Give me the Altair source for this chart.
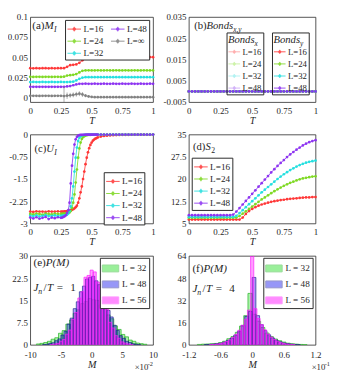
import altair as alt
import pandas as pd

SERIF = "Liberation Serif"
INK = "#262626"
RED, GREEN, CYAN, PURPLE, GRAY = "#ff3333", "#7bd81e", "#1fdede", "#8a2ef0", "#7f7f7f"
PALE = ["#ffa3a3", "#c6f19c", "#a6f1f1", "#cba6f8"]

# ---------------- data ----------------
T_AD = [0.0, 0.025, 0.05, 0.075, 0.1, 0.125, 0.15, 0.175, 0.2, 0.225, 0.25, 0.275, 0.3, 0.325,
        0.35, 0.375, 0.4, 0.425, 0.45, 0.475, 0.5, 0.525, 0.55, 0.575, 0.6, 0.625, 0.65, 0.675,
        0.7, 0.725, 0.75, 0.775, 0.8, 0.825, 0.85, 0.875, 0.9, 0.925, 0.95, 0.975, 1.0]
T_C = [0.0, 0.025, 0.05, 0.075, 0.1, 0.125, 0.15, 0.175, 0.2, 0.225, 0.25,
       0.26, 0.27, 0.28, 0.29, 0.3, 0.31, 0.32, 0.33, 0.34, 0.35, 0.36, 0.37, 0.38, 0.39, 0.4,
       0.41, 0.42, 0.43, 0.44, 0.45, 0.46, 0.47, 0.48, 0.49, 0.5, 0.51, 0.52, 0.53, 0.54, 0.55,
       0.575, 0.6, 0.625, 0.65, 0.675, 0.7, 0.725, 0.75, 0.775, 0.8, 0.825, 0.85, 0.875, 0.9,
       0.925, 0.95, 0.975, 1.0]

# (a) M_I
A_L16 = [0.0362, 0.0361, 0.0362, 0.0361, 0.0362, 0.0362, 0.0361, 0.0362, 0.0361, 0.0362, 0.0362, 0.0363,
         0.038, 0.040, 0.0405, 0.041, 0.043, 0.046, 0.0485, 0.0495,
         0.0500, 0.0501, 0.0500, 0.0500, 0.0501, 0.0500, 0.0500, 0.0501, 0.0500, 0.0500, 0.0501,
         0.0500, 0.0500, 0.0501, 0.0500, 0.0500, 0.0501, 0.0500, 0.0500, 0.0501, 0.0500]
A_L24 = [0.0255, 0.0254, 0.0255, 0.0255, 0.0254, 0.0255, 0.0255, 0.0254, 0.0255, 0.0255, 0.0254, 0.0256,
         0.027, 0.0275, 0.028, 0.029, 0.031, 0.033,
         0.0335, 0.0336, 0.0335, 0.0335, 0.0336, 0.0335, 0.0335, 0.0336, 0.0335, 0.0335, 0.0336,
         0.0335, 0.0335, 0.0336, 0.0335, 0.0335, 0.0336, 0.0335, 0.0335, 0.0336, 0.0335, 0.0335, 0.0335]
A_L32 = [0.0190, 0.0191, 0.0190, 0.0190, 0.0191, 0.0190, 0.0190, 0.0191, 0.0190, 0.0190, 0.0191, 0.0190,
         0.0190, 0.0191, 0.0195, 0.021, 0.023, 0.0245,
         0.0250, 0.0251, 0.0250, 0.0250, 0.0251, 0.0250, 0.0250, 0.0251, 0.0250, 0.0250, 0.0251,
         0.0250, 0.0250, 0.0251, 0.0250, 0.0250, 0.0251, 0.0250, 0.0250, 0.0251, 0.0250, 0.0250, 0.0250]
A_L48 = [0.0130, 0.0131, 0.0130, 0.0130, 0.0131, 0.0130, 0.0130, 0.0131, 0.0130, 0.0130, 0.0131, 0.0130,
         0.0135, 0.014, 0.015, 0.016,
         0.0168, 0.0168, 0.0169, 0.0168, 0.0168, 0.0169, 0.0168, 0.0168, 0.0169, 0.0168, 0.0168,
         0.0169, 0.0168, 0.0168, 0.0169, 0.0168, 0.0168, 0.0169, 0.0168, 0.0168, 0.0169, 0.0168,
         0.0168, 0.0169, 0.0168]
A_LINF = [0.0018, 0.0019, 0.0018, 0.0017, 0.0018, 0.0019, 0.0018, 0.0017, 0.0018, 0.0019, 0.0018,
          0.0015, 0.002, 0.0025, 0.003, 0.0038, 0.0045, 0.0035, 0.002, 0.001, 0.0005,
          0.0002, 0.0002, 0.0002, 0.0002, 0.0002, 0.0002, 0.0002, 0.0002, 0.0002, 0.0002,
          0.0002, 0.0002, 0.0002, 0.0002, 0.0002, 0.0002, 0.0002, 0.0002, 0.0002, 0.0002]
A_LINF_ERR = [0.0006, 0.0006, 0.0006, 0.0006, 0.0006, 0.0006, 0.0006, 0.0006, 0.0006, 0.0006, 0.0006,
              0.012, 0.004, 0.003, 0.003, 0.003, 0.003, 0.003, 0.002, 0.0015, 0.001,
              0.0004, 0.0004, 0.0004, 0.0004, 0.0004, 0.0004, 0.0004, 0.0004, 0.0004, 0.0004,
              0.0004, 0.0004, 0.0004, 0.0004, 0.0004, 0.0004, 0.0004, 0.0004, 0.0004, 0.0004]

# (b) Bonds_x, Bonds_y : all zero
B_ZERO = [0.0, 0.0, 0.0, 0.0, 0.0, 0.0, 0.0, 0.0, 0.0, 0.0, 0.0, 0.0, 0.0, 0.0, 0.0, 0.0, 0.0,
          0.0, 0.0, 0.0, 0.0, 0.0, 0.0, 0.0, 0.0, 0.0, 0.0, 0.0, 0.0, 0.0, 0.0, 0.0, 0.0, 0.0,
          0.0, 0.0, 0.0, 0.0, 0.0, 0.0, 0.0]

# (c) U_I
C_L16 = [-2.60, -2.61, -2.59, -2.60, -2.60, -2.61, -2.59, -2.60, -2.60, -2.59, -2.60,
         -2.60, -2.60, -2.59, -2.59, -2.58, -2.58, -2.57, -2.56, -2.54, -2.52,
         -2.49, -2.45, -2.40, -2.30, -2.15, -1.95, -1.75, -1.50, -1.25, -1.00,
         -0.78, -0.60, -0.46, -0.35, -0.27, -0.21, -0.17, -0.14, -0.12, -0.10,
         -0.07, -0.05, -0.04, -0.03, -0.025, -0.02, -0.015, -0.012, -0.010, -0.009, -0.008,
         -0.007, -0.006, -0.005, -0.005, -0.004, -0.004, -0.003]
C_L24 = [-2.68, -2.69, -2.67, -2.68, -2.70, -2.67, -2.68, -2.69, -2.67, -2.68, -2.68,
         -2.68, -2.67, -2.67, -2.66, -2.66, -2.65, -2.63, -2.58, -2.48, -2.30,
         -2.02, -1.62, -1.18, -0.78, -0.47, -0.27, -0.15, -0.09, -0.055, -0.035,
         -0.022, -0.015, -0.011, -0.009, -0.007, -0.006, -0.005, -0.005, -0.004, -0.004,
         -0.003, -0.003, -0.003, -0.003, -0.002, -0.002, -0.002, -0.002, -0.002, -0.002,
         -0.001, -0.001, -0.001, -0.001, -0.001, -0.001, -0.001, -0.001]
C_L32 = [-2.74, -2.75, -2.73, -2.76, -2.74, -2.72, -2.75, -2.74, -2.73, -2.75, -2.74,
         -2.74, -2.73, -2.73, -2.72, -2.70, -2.66, -2.58, -2.42, -2.15, -1.75,
         -1.25, -0.78, -0.44, -0.22, -0.11, -0.06, -0.035, -0.02, -0.015, -0.01,
         -0.008, -0.007, -0.006, -0.005, -0.005, -0.004, -0.004, -0.003, -0.003, -0.003,
         -0.003, -0.002, -0.002, -0.002, -0.002, -0.002, -0.001, -0.001, -0.001, -0.001,
         -0.001, -0.001, -0.001, -0.001, -0.001, -0.001, -0.001, -0.001]
C_L48 = [-2.80, -2.83, -2.79, -2.84, -2.81, -2.78, -2.85, -2.80, -2.82, -2.79, -2.81,
         -2.80, -2.78, -2.76, -2.72, -2.64, -2.55, -2.30, -1.65, -1.05, -0.65,
         -0.34, -0.16, -0.08, -0.04, -0.02, -0.015, -0.01, -0.01, -0.008, -0.007,
         -0.006, -0.005, -0.005, -0.004, -0.004, -0.003, -0.003, -0.003, -0.002, -0.002,
         -0.002, -0.002, -0.001, -0.001, -0.001, -0.001, -0.001, -0.001, -0.001, -0.001,
         -0.001, -0.001, -0.001, -0.001, -0.001, -0.001, -0.001, -0.001]

# (d) S_2
D_L16 = [6.3, 6.3, 6.3, 6.3, 6.3, 6.3, 6.3, 6.3, 6.3, 6.3, 6.3, 6.3, 6.3, 6.3, 6.3, 6.3, 6.3,
         7.0, 8.2, 9.2, 9.9, 10.5, 11.0, 11.4, 11.7, 12.0, 12.3, 12.5, 12.7, 12.9, 13.0, 13.2,
         13.3, 13.4, 13.5, 13.6, 13.7, 13.8, 13.8, 13.9, 13.9]
D_L24 = [6.9, 6.9, 6.9, 6.9, 6.9, 6.9, 6.9, 6.9, 6.9, 6.9, 6.9, 6.9, 6.9, 6.9, 6.9,
         7.0, 7.5, 8.3, 9.1, 9.9, 10.7, 11.5, 12.3, 13.1, 13.8, 14.5, 15.2, 15.9, 16.5, 17.1,
         17.7, 18.2, 18.7, 19.1, 19.5, 19.9, 20.2, 20.4, 20.6, 20.8, 20.9]
D_L32 = [7.2, 7.2, 7.2, 7.2, 7.2, 7.2, 7.2, 7.2, 7.2, 7.2, 7.2, 7.2, 7.2, 7.2, 7.2,
         7.6, 8.5, 9.5, 10.5, 11.5, 12.5, 13.5, 14.5, 15.5, 16.4, 17.3, 18.2, 19.1, 20.0, 20.8,
         21.6, 22.3, 23.0, 23.6, 24.2, 24.7, 25.1, 25.5, 25.8, 26.0, 26.2]
D_L48 = [7.8, 7.8, 7.8, 7.8, 7.8, 7.8, 7.8, 7.8, 7.8, 7.8, 7.8, 7.8, 7.8, 7.8,
         8.0, 9.0, 10.2, 11.4, 12.6, 13.8, 15.0, 16.2, 17.4, 18.6, 19.8, 21.0, 22.2, 23.3, 24.4,
         25.4, 26.4, 27.4, 28.3, 29.1, 29.9, 30.6, 31.3, 31.9, 32.4, 32.8, 33.1]

# (e) P(M), J_n/T = 1   (M in units of 1e-2)
E32_C = [-8.7, -8.1, -7.5, -6.9, -6.3, -5.7, -5.1, -4.5, -3.9, -3.3, -2.7, -2.1, -1.5, -0.9, -0.3,
         0.3, 0.9, 1.5, 2.1, 2.7, 3.3, 3.9, 4.5, 5.1, 5.7, 6.3, 6.9, 7.5, 8.1, 8.7]
E32_V = [0.3, 0.5, 0.8, 1.2, 1.9, 2.4, 3.9, 4.8, 7.0, 8.4, 10.6, 11.8, 13.9, 14.6, 15.6,
         15.2, 15.0, 13.5, 12.3, 10.1, 8.8, 6.4, 5.2, 3.5, 2.7, 1.6, 1.2, 0.6, 0.4, 0.2]
E48_C = [-7.75, -7.25, -6.75, -6.25, -5.75, -5.25, -4.75, -4.25, -3.75, -3.25, -2.75, -2.25, -1.75,
         -1.25, -0.75, -0.25, 0.25, 0.75, 1.25, 1.75, 2.25, 2.75, 3.25, 3.75, 4.25, 4.75, 5.25,
         5.75, 6.25, 6.75, 7.25, 7.75]
E48_V = [0.1, 0.2, 0.5, 0.7, 1.4, 2.0, 3.3, 4.6, 7.0, 9.0, 12.2, 14.5, 17.9, 19.8, 22.2, 22.7,
         23.1, 21.6, 20.3, 17.3, 15.0, 11.6, 9.4, 6.6, 4.9, 3.1, 2.2, 1.2, 0.8, 0.4, 0.2, 0.1]
E56_C = [-6.5, -6.0, -5.5, -5.0, -4.5, -4.0, -3.5, -3.0, -2.5, -2.0, -1.5, -1.0, -0.5, 0.0,
         0.5, 1.0, 1.5, 2.0, 2.5, 3.0, 3.5, 4.0, 4.5, 5.0, 5.5, 6.0, 6.5]
E56_V = [0.1, 0.3, 0.5, 1.2, 1.8, 3.6, 5.0, 8.6, 10.9, 15.8, 17.9, 22.8, 23.4, 25.2,
         24.6, 21.2, 19.5, 14.6, 12.0, 7.6, 5.7, 3.1, 2.2, 1.0, 0.6, 0.3, 0.1]
E_WIDTH = [0.6, 0.5, 0.5]

# (f) P(M), J_n/T = 4   (M in units of 1e-1)
F32_C = [-1.0, -0.92, -0.84, -0.76, -0.68, -0.60, -0.52, -0.44, -0.36, -0.28, -0.20, -0.12, -0.04,
         0.04, 0.12, 0.20, 0.28, 0.36, 0.44, 0.52, 0.60, 0.68, 0.76, 0.84, 0.92, 1.0]
F32_V = [0.3, 0.5, 0.6, 0.8, 1.0, 1.6, 2.6, 4.4, 6.0, 9.0, 13.5, 21.0, 37.0,
         22.0, 17.0, 12.5, 8.5, 6.0, 4.2, 3.0, 2.0, 1.2, 0.8, 0.5, 0.3, 0.2]
F48_C = [-0.875, -0.805, -0.735, -0.665, -0.595, -0.525, -0.455, -0.385, -0.315, -0.245, -0.175,
         -0.105, -0.035, 0.035, 0.105, 0.175, 0.245, 0.315, 0.385, 0.455, 0.525, 0.595, 0.665,
         0.735, 0.805, 0.875]
F48_V = [0.2, 0.3, 0.5, 0.8, 1.2, 2.0, 3.2, 4.8, 7.0, 9.8, 14.0, 20.5, 24.0,
         48.5, 21.0, 14.5, 10.2, 7.2, 5.0, 3.4, 2.2, 1.4, 0.9, 0.5, 0.3, 0.2]
F56_C = [-0.78, -0.72, -0.66, -0.60, -0.54, -0.48, -0.42, -0.36, -0.30, -0.24, -0.18, -0.12, -0.06,
         0.0, 0.06, 0.12, 0.18, 0.24, 0.30, 0.36, 0.42, 0.48, 0.54, 0.60, 0.66, 0.72, 0.78]
F56_V = [0.2, 0.3, 0.6, 0.9, 1.5, 2.4, 3.6, 5.4, 7.6, 10.5, 14.0, 18.5, 25.0,
         64.0, 26.0, 19.0, 14.5, 10.8, 7.8, 5.6, 3.8, 2.6, 1.6, 1.0, 0.6, 0.3, 0.2]
F_WIDTH = [0.08, 0.07, 0.06]

LS = ["L=16", "L=24", "L=32", "L=48"]
A_DOM = ["L=16", "L=24", "L=32", "L=48", "L=\u221e"]
A_RNG = [RED, GREEN, CYAN, PURPLE, GRAY]
H_DOM = ["L = 32", "L = 48", "L = 56"]
H_FILL = ["#22dd22", "#1a1aee", "#ff00ff"]
H_EDGE = ["#1fb01f", "#1c1c8c", "#ff1aff"]

for lst, n in [(A_L16, 41), (A_L24, 41), (A_L32, 41), (A_L48, 41), (A_LINF, 41), (A_LINF_ERR, 41),
               (B_ZERO, 41), (C_L16, 59), (C_L24, 59), (C_L32, 59), (C_L48, 59), (D_L16, 41),
               (D_L24, 41), (D_L32, 41), (D_L48, 41)]:
    assert len(lst) == n, (len(lst), n)


def long_df(t, labels, series, key="L"):
    rows = []
    for lab, vals in zip(labels, series):
        for tt, vv in zip(t, vals):
            rows.append({"T": tt, "v": vv, key: lab})
    return pd.DataFrame(rows)


def hist_df(groups):
    rows = []
    for lab, cs, vs, w in groups:
        assert len(cs) == len(vs)
        for c, v in zip(cs, vs):
            rows.append({"lo": c - w / 2, "hi": c + w / 2, "v": v, "base": 0.0, "L": lab})
    return pd.DataFrame(rows)


# ---------------- layout constants ----------------
W1, W2 = 127, 131
H1, H2, H3 = 88, 92, 92
ONE = pd.DataFrame({"k": [0]})
MINUS = "replace(datum.label, '\u2212', '-')"


def texts(x0, y0, segs):
    out = []
    for s, dx, dy, size, it in segs:
        out.append(
            alt.Chart(ONE)
            .mark_text(text=s, font=SERIF, fontSize=size, fontStyle="italic" if it else "normal",
                       fontWeight="normal", align="left", baseline="alphabetic", color=INK)
            .encode(x=alt.value(x0 + dx), y=alt.value(y0 + dy))
        )
    return out


LSYM = "M-1,0H1M0,-0.34V0.34M-0.15,-0.15H0.15V0.15H-0.15Z"


def line_legend(x, y, cols=1, title=None, fill="white", size=196, lsize=9.5, pad=2):
    kw = dict(orient="none", legendX=x, legendY=y, columns=cols, fillColor=fill, strokeColor=INK,
              padding=pad, labelFont=SERIF, labelFontSize=lsize, labelFontWeight="normal",
              labelColor=INK, labelOffset=2, symbolType=LSYM, symbolSize=size,
              symbolStrokeWidth=1, rowPadding=0.5, columnPadding=5, labelLimit=80)
    if title is None:
        kw["title"] = None
    else:
        kw.update(title=title, titleFont=SERIF, titleFontSize=11, titleFontStyle="italic",
                  titleFontWeight="normal", titleColor=INK, titlePadding=1)
    return alt.Legend(**kw)


def hist_legend(x, y):
    return alt.Legend(orient="none", legendX=x, legendY=y, title=None, fillColor="white",
                      strokeColor=INK, padding=2, labelFont=SERIF, labelFontSize=9.5,
                      labelFontWeight="normal", labelColor=INK, labelOffset=3,
                      symbolType="M-1,-0.42H1V0.42H-1Z", symbolSize=289, symbolStrokeWidth=1,
                      rowPadding=1.5, symbolOpacity=0.45)


def xaxis(vals, fmt, title, pad=4.5):
    return alt.Axis(values=vals, format=fmt, title=title, labelExpr=MINUS, labelFlush=False,
                    labelOverlap=False, labelPadding=pad)


def YV(field, dom, vals, fmt):
    return alt.Y(f"{field}:Q", scale=alt.Scale(domain=dom, nice=False, zero=False),
                 axis=alt.Axis(values=vals, format=fmt, title=None, labelExpr=MINUS))


XT = alt.X("T:Q", scale=alt.Scale(domain=[0, 1], nice=False, zero=False),
           axis=xaxis([0, 0.25, 0.5, 0.75, 1], ".2~f", "T"))


def line_layers(df, y, color):
    base = alt.Chart(df).encode(x=XT, y=y, color=color)
    return alt.layer(base.mark_line(strokeWidth=1, opacity=0.85),
                     base.mark_point(filled=True, size=8, opacity=0.95))


# ---------------- (a) ----------------
a_df = long_df(T_AD, ["L=16", "L=24", "L=32", "L=48", "L=\u221e"], [A_L16, A_L24, A_L32, A_L48, A_LINF])
a_err = pd.DataFrame({"T": T_AD,
                      "lo": [v - e for v, e in zip(A_LINF, A_LINF_ERR)],
                      "hi": [v + e for v, e in zip(A_LINF, A_LINF_ERR)]})
A_YDOM, A_YV = [-0.006, 0.1], [0, 0.025, 0.05, 0.075, 0.1]
a_color = alt.Color("L:N", scale=alt.Scale(domain=A_DOM, range=A_RNG),
                    legend=line_legend(W1 - 5 - 86, 3, cols=2))
a_rule = alt.Chart(a_err).mark_rule(color=GRAY, strokeWidth=0.8, opacity=0.8, clip=True).encode(
    x=XT, y=YV("lo", A_YDOM, A_YV, ".3~f"), y2="hi:Q")
pa = alt.layer(
    line_layers(a_df, YV("v", A_YDOM, A_YV, ".3~f"), a_color), a_rule,
    *texts(2, 12, [("(a)", 0, 0, 11.5, False), ("M", 12.8, 0, 11.5, True), ("I", 22.6, 3, 8, True)]),
).properties(width=W1, height=H1)

# ---------------- (b) ----------------
B_YDOM, B_YV = [-0.005, 0.035], [-0.005, 0.005, 0.015, 0.025, 0.035]
bx_df = long_df(T_AD, LS, [B_ZERO, B_ZERO, B_ZERO, B_ZERO], key="Lx")
by_df = long_df(T_AD, LS, [B_ZERO, B_ZERO, B_ZERO, B_ZERO], key="Ly")
BLX1, BLX2, BLY = 39, 86, 16
bx_color = alt.Color("Lx:N", scale=alt.Scale(domain=LS, range=PALE),
                     legend=line_legend(BLX1, BLY, title="Bonds", fill="transparent", size=144,
                                        lsize=9, pad=1.5))
by_color = alt.Color("Ly:N", scale=alt.Scale(domain=LS, range=[RED, GREEN, CYAN, PURPLE]),
                     legend=line_legend(BLX2, BLY, title="Bonds", fill="transparent", size=144,
                                        lsize=9, pad=1.5))
pb = alt.layer(
    line_layers(bx_df, YV("v", B_YDOM, B_YV, ".3~f"), bx_color),
    line_layers(by_df, YV("v", B_YDOM, B_YV, ".3~f"), by_color),
    *texts(5.5, 12, [("(b)", 0, 0, 11, False), ("Bonds", 12.8, 0, 11, True), ("x,y", 40.5, 3, 7.5, True)]),
    *texts(BLX1 + 1.5 + 27.5, BLY + 1.5 + 12, [("x", 0, 0, 7.5, True)]),
    *texts(BLX2 + 1.5 + 27.5, BLY + 1.5 + 12, [("y", 0, 0, 7.5, True)]),
).resolve_scale(color="independent").properties(width=W2, height=H1)

# ---------------- (c) ----------------
c_df = long_df(T_C, LS, [C_L16, C_L24, C_L32, C_L48])
c_color = alt.Color("L:N", scale=alt.Scale(domain=LS, range=[RED, GREEN, CYAN, PURPLE]),
                    legend=line_legend(W1 - 5 - 46, 39))
pc = alt.layer(
    line_layers(c_df, YV("v", [-3, 0], [0, -0.75, -1.5, -2.25, -3], ".2~f"), c_color),
    *texts(4.3, 18, [("(c)", 0, 0, 11, False), ("U", 12.2, 0, 11, True), ("I", 20.6, 3, 8, True)]),
).properties(width=W1, height=H2)

# ---------------- (d) ----------------
d_df = long_df(T_AD, LS, [D_L16, D_L24, D_L32, D_L48])
d_color = alt.Color("L:N", scale=alt.Scale(domain=LS, range=[RED, GREEN, CYAN, PURPLE]),
                    legend=line_legend(3, 24))
pd_ = alt.layer(
    line_layers(d_df, YV("v", [5, 35], [5, 12.5, 20, 27.5, 35], ".1~f"), d_color),
    *texts(4.3, 16, [("(d)", 0, 0, 11, False), ("S", 12.8, 0, 11, True), ("2", 18.8, 3, 8, False)]),
).properties(width=W2, height=H2)


# ---------------- (e), (f) ----------------
def hist_panel(df, xdom, xvals, xfmt, ydom, yvals, leg_x):
    fill = alt.Fill("L:N", scale=alt.Scale(domain=H_DOM, range=H_FILL), legend=hist_legend(leg_x, 2))
    stroke = alt.Stroke("L:N", scale=alt.Scale(domain=H_DOM, range=H_EDGE), legend=hist_legend(leg_x, 2))
    return alt.Chart(df).mark_rect(fillOpacity=0.38, strokeWidth=0.7, clip=True).encode(
        x=alt.X("lo:Q", scale=alt.Scale(domain=xdom, nice=False, zero=False),
                axis=xaxis(xvals, xfmt, "M", pad=6.5)),
        x2="hi:Q",
        y=YV("v", ydom, yvals, ".1~f"),
        y2="base:Q",
        fill=fill, stroke=stroke,
    )


e_df = hist_df([("L = 32", E32_C, E32_V, E_WIDTH[0]), ("L = 48", E48_C, E48_V, E_WIDTH[1]),
                ("L = 56", E56_C, E56_V, E_WIDTH[2])])
f_df = hist_df([("L = 32", F32_C, F32_V, F_WIDTH[0]), ("L = 48", F48_C, F48_V, F_WIDTH[1]),
                ("L = 56", F56_C, F56_V, F_WIDTH[2])])

pe = alt.layer(
    hist_panel(e_df, [-10, 10], [-10, -5, 0, 5, 10], "d", [0, 30], [0, 7.5, 15, 22.5, 30], W1 - 55),
    *texts(3.3, 10.5, [("(e)", 0, 0, 11.5, False), ("P(M)", 12.8, 0, 11.5, True)]),
    *texts(3.3, 36, [("J", 0, 0, 11.5, True), ("n", 5, 3, 8, True), ("/", 10.5, 0, 11.5, False),
                     ("T", 14, 0, 11.5, True), ("=", 24, 0, 11.5, False), ("1", 38, 0, 11.5, False)]),
    *texts(W1 - 19, H3 + 26, [("\u00d710", 0, 0, 9, False), ("-2", 13.5, -4, 6.5, False)]),
).properties(width=W1, height=H3)

pf = alt.layer(
    hist_panel(f_df, [-1.2, 1.2], [-1.2, -0.6, 0, 0.6, 1.2], ".1~f", [0, 64], [0, 16, 32, 48, 64], W2 - 54),
    *texts(3.7, 16.5, [("(f)", 0, 0, 11.5, False), ("P(M)", 11.5, 0, 11.5, True)]),
    *texts(3.7, 37, [("J", 0, 0, 11.5, True), ("n", 5, 3, 8, True), ("/", 10.5, 0, 11.5, False),
                     ("T", 14, 0, 11.5, True), ("=", 24, 0, 11.5, False), ("4", 38, 0, 11.5, False)]),
    *texts(W2 - 4, H3 + 26, [("\u00d710", 0, 0, 9, False), ("-1", 13.5, -4, 6.5, False)]),
).properties(width=W2, height=H3)

chart = (
    alt.concat(pa, pb, pc, pd_, pe, pf, columns=2, spacing={"row": 3.5, "column": 4})
    .resolve_scale(x="independent", y="independent", color="independent",
                   fill="independent", stroke="independent")
    .properties(padding={"left": -2, "top": -2, "right": 0, "bottom": 0})
    .configure_view(stroke=INK, strokeWidth=0.8)
    .configure_axis(labelFont=SERIF, labelFontSize=9.2, labelColor=INK, titleFont=SERIF,
                    titleFontSize=10.5, titleFontStyle="italic", titleFontWeight="normal",
                    titleColor=INK, domain=False, ticks=False, grid=False, titlePadding=0)
    .configure_axisY(labelPadding=3)
)

chart.save("out.html", embed_options={"renderer": "svg", "actions": False})
